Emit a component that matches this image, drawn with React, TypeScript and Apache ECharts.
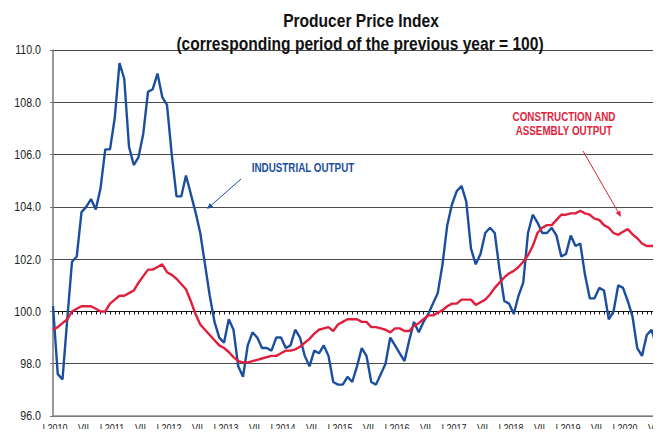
import React, { useEffect, useRef } from "react";
import * as echarts from "echarts";

const years = [2010, 2011, 2012, 2013, 2014, 2015, 2016, 2017, 2018, 2019, 2020];
const romanMonths = ["I", "II", "III", "IV", "V", "VI", "VII", "VIII", "IX", "X", "XI", "XII"];
const monthCount = 129; // Jan 2010 - Sep 2020

const yTicks = [96, 98, 100, 102, 104, 106, 108, 110];

const industrialOutput = [
  100.2, 97.6, 97.4, 99.7, 101.9, 102.1, 103.8, 104.0, 104.3, 103.9, 104.7, 106.2,
  106.2, 107.4, 109.5, 108.9, 106.3, 105.6, 105.9, 106.8, 108.4, 108.5, 109.1, 108.2,
  107.9, 106.0, 104.4, 104.4, 105.2, 104.5, 103.8, 103.0, 101.8, 100.6, 99.6, 99.0,
  98.8, 99.7, 99.3, 97.9, 97.5, 98.7, 99.2, 99.0, 98.6, 98.6, 98.5, 99.0,
  99.0, 98.6, 98.7, 99.3, 99.0, 98.3, 97.9, 98.5, 98.4, 98.7, 98.3, 97.3,
  97.2, 97.2, 97.5, 97.3, 97.9, 98.6, 98.3, 97.3, 97.2, 97.6, 98.0, 99.0,
  98.7, 98.4, 98.1, 98.9, 99.6, 99.2, 99.6, 99.9, 100.3, 100.7, 101.8, 103.3,
  104.1, 104.6, 104.8, 104.2, 102.4, 101.8, 102.2, 103.0, 103.2, 103.0, 101.6, 100.4,
  100.3, 99.9, 100.6, 101.1, 103.0, 103.7, 103.4, 103.0, 103.0, 103.2, 102.9, 102.1,
  102.2, 102.9, 102.5, 102.6, 101.4, 100.5, 100.5, 100.9, 100.8, 99.7, 100.0, 101.0,
  100.9, 100.4, 99.8, 98.6, 98.3, 99.1, 99.3, 98.7, 98.6,
];

const constructionOutput = [
  99.3, 99.4, 99.55, 99.7, 100.0, 100.1, 100.2, 100.2, 100.2, 100.1, 100.0, 100.0,
  100.3, 100.45, 100.6, 100.6, 100.7, 100.8, 101.1, 101.35, 101.6, 101.6, 101.7, 101.8,
  101.5, 101.4, 101.25, 101.05, 100.85, 100.4, 99.9, 99.5, 99.3, 99.1, 98.9, 98.7,
  98.6, 98.45, 98.25, 98.1, 98.05, 98.05, 98.1, 98.15, 98.2, 98.25, 98.3, 98.3,
  98.4, 98.5, 98.5, 98.55, 98.65, 98.8, 98.95, 99.15, 99.3, 99.35, 99.4, 99.25,
  99.5, 99.6, 99.7, 99.7, 99.7, 99.6, 99.6, 99.4, 99.4, 99.35, 99.3, 99.2,
  99.35, 99.35, 99.25, 99.25, 99.45, 99.55, 99.7, 99.85, 99.85, 99.95, 100.05, 100.2,
  100.3, 100.3, 100.45, 100.45, 100.45, 100.25, 100.35, 100.45, 100.65, 100.9, 101.1, 101.3,
  101.45, 101.55, 101.7, 101.9, 102.15, 102.5, 103.0, 103.2, 103.3, 103.3, 103.5, 103.7,
  103.7, 103.75, 103.75, 103.85, 103.75, 103.7, 103.55, 103.5, 103.3, 103.2, 103.0, 102.93,
  103.05, 103.15, 102.95, 102.8, 102.6, 102.5, 102.5, 102.5, 102.5,
];

const categories = Array.from({ length: monthCount }, (_, i) =>
  i % 12 === 0 ? `I ${years[i / 12]}` : romanMonths[i % 12]
);

const BLUE = "#1b4f9e";
const RED = "#e01f3d";
const FONT = "'Liberation Sans', Arial, sans-serif";
const NARROW_SCALE = 0.82;

function narrowText(
  text: string,
  x: number,
  y: number,
  font: string,
  fill: string,
  align: string
) {
  return {
    type: "text",
    x,
    y,
    scaleX: NARROW_SCALE,
    silent: true,
    style: {
      text,
      x: 0,
      y: 0,
      textAlign: align,
      textVerticalAlign: "middle",
      fill,
      font,
    },
  };
}

function arrow(x1: number, y1: number, x2: number, y2: number, color: string) {
  const dx = x2 - x1;
  const dy = y2 - y1;
  const len = Math.sqrt(dx * dx + dy * dy);
  const ux = dx / len;
  const uy = dy / len;
  const hl = 6;
  const hw = 2.6;
  const bx = x2 - ux * hl;
  const by = y2 - uy * hl;
  return [
    {
      type: "line",
      shape: { x1, y1, x2: bx, y2: by },
      style: { stroke: color, lineWidth: 1 },
      silent: true,
    },
    {
      type: "polygon",
      shape: {
        points: [
          [x2, y2],
          [bx - uy * hw, by + ux * hw],
          [bx + uy * hw, by - ux * hw],
        ],
      },
      style: { fill: color },
      silent: true,
    },
  ];
}

export default function App() {
  const ref = useRef<HTMLDivElement>(null);

  useEffect(() => {
    if (!ref.current) return;
    const chart = echarts.init(ref.current, undefined, { renderer: "svg" });
    const gridTop = 50;
    const gridBottom = 21;
    const plotHeight = 437 - gridTop - gridBottom;
    const yMin = yTicks[0];
    const yMax = yTicks[yTicks.length - 1];
    const zeroOffset = -plotHeight * ((100 - yMin) / (yMax - yMin));

    chart.setOption({
      animation: false,
      backgroundColor: "#ffffff",
      grid: { left: 53, right: 0, top: gridTop, bottom: gridBottom, containLabel: false },
      xAxis: [
        {
          type: "category",
          data: categories,
          boundaryGap: false,
          position: "bottom",
          axisLine: { show: true, lineStyle: { color: "#8c8c8c", width: 1.5 } },
          axisTick: { show: false },
          axisLabel: { show: false },
          splitLine: { show: false },
        },
        {
          type: "category",
          data: categories,
          boundaryGap: false,
          position: "bottom",
          offset: zeroOffset,
          axisLine: { show: true, lineStyle: { color: "#111", width: 1 } },
          axisTick: { show: true, interval: 0, length: 3, lineStyle: { color: "#111", width: 1 } },
          axisLabel: { show: false },
          splitLine: { show: false },
        },
      ],
      yAxis: {
        type: "value",
        min: yMin,
        max: yMax,
        interval: 2,
        axisLine: { show: true, lineStyle: { color: "#777", width: 1.5 } },
        axisTick: { show: true, length: 3, lineStyle: { color: "#777" } },
        axisLabel: { show: false },
        splitLine: { show: true, lineStyle: { color: "#4a4a4a", width: 1 } },
      },
      series: [
        {
          name: "INDUSTRIAL OUTPUT",
          type: "line",
          data: industrialOutput,
          showSymbol: false,
          symbol: "none",
          lineStyle: { color: BLUE, width: 2.4 },
          z: 3,
        },
        {
          name: "CONSTRUCTION AND ASSEMBLY OUTPUT",
          type: "line",
          data: constructionOutput,
          showSymbol: false,
          symbol: "none",
          lineStyle: { color: RED, width: 2.4 },
          z: 4,
        },
      ],
    });

    const labels: any[] = [];
    categories.forEach((c, i) => {
      if (i % 6 !== 0) return;
      const px = chart.convertToPixel({ xAxisIndex: 0 }, i) as number;
      labels.push(narrowText(c, px + 2, 428, `11px ${FONT}`, "#222", "center"));
    });
    yTicks.forEach((v) => {
      const py = chart.convertToPixel({ yAxisIndex: 0 }, v) as number;
      labels.push(narrowText(v.toFixed(1), 41, py, `13px ${FONT}`, "#222", "right"));
    });

    chart.setOption({
      graphic: [
        ...labels,
        narrowText("Producer Price Index", 361, 20, `bold 19px ${FONT}`, "#111", "center"),
        narrowText(
          "(corresponding period of the previous year = 100)",
          360,
          43,
          `bold 19px ${FONT}`,
          "#111",
          "center"
        ),
        narrowText("INDUSTRIAL OUTPUT", 303, 168, `bold 12px ${FONT}`, BLUE, "center"),
        narrowText("CONSTRUCTION AND", 564, 117, `bold 12px ${FONT}`, RED, "center"),
        narrowText("ASSEMBLY OUTPUT", 564, 131, `bold 12px ${FONT}`, RED, "center"),
        ...arrow(241, 179, 207, 209, BLUE),
        ...arrow(583, 151, 621, 217, RED),
      ],
    });
    return () => chart.dispose();
  }, []);

  return <div ref={ref} style={{ width: 661, height: 437, margin: -8 }} />;
}
